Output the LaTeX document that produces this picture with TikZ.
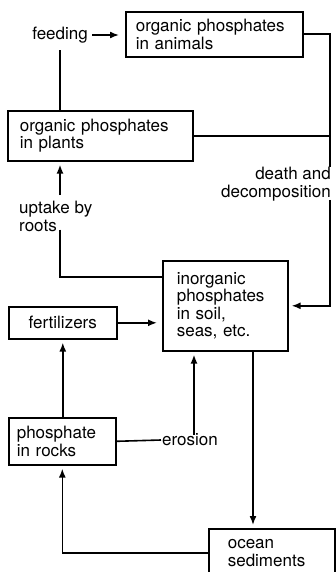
\documentclass[tikz,border=0pt]{standalone}
\usepackage{fontspec}
\setmainfont{TeX Gyre Heros}
\usetikzlibrary{arrows.meta}

\tikzset{
  box/.style={draw, line width=1.6pt, anchor=north west, align=left, inner ysep=0pt},
  lbl/.style={inner sep=1pt},
  flow/.style={line width=1.6pt},
  arr/.style={flow, -{Latex[length=9pt,width=7pt]}, shorten >=3pt}
}

\begin{document}
\begin{tikzpicture}[x=1pt, y=-1pt, font=\fontsize{17}{17.5}\selectfont]
    % Page frame
    \useasboundingbox (0,0) rectangle (336,572);

    % The boxes
    \node[box, inner xsep=10pt, minimum width=177pt, minimum height=45pt, text width=157pt]
        (animals) at (125,11) {organic phosphates\\in animals};
    \node[box, inner xsep=12pt, minimum width=185pt, minimum height=50pt, text width=161pt]
        (plants) at (7,110) {organic phosphates\\in plants};
    \node[box, inner xsep=14pt, minimum width=125pt, minimum height=90pt, text width=97pt]
        (inorganic) at (162,260) {inorganic\\phosphates\\in soil,\\seas, etc.};
    \node[box, align=center, inner xsep=4pt, minimum width=108pt, minimum height=32pt, text width=100pt]
        (fert) at (8,306) {fertilizers};
    \node[box, inner xsep=8pt, minimum width=107pt, minimum height=47pt, text width=91pt]
        (rocks) at (8,417) {phosphate\\in rocks};
    \node[box, inner xsep=19pt, minimum width=126pt, minimum height=48pt, text width=88pt]
        (ocean) at (208,528) {ocean\\sediments};

    % The labels
    \node[lbl, anchor=east] (feeding) at (89,35) {feeding};
    \node[lbl, anchor=north east, align=right] (death) at (332,166) {death and\\decomposition};
    \node[lbl, anchor=north west, align=left] (uptake) at (18,200) {uptake by\\roots};
    \node[lbl, anchor=west] (erosion) at (161,440) {erosion};

    % Guide lines
    \coordinate (rx) at (330,0);
    \coordinate (ux) at (60,0);
    \coordinate (ex) at (194,0);
    \coordinate (dx) at (253,0);

    % Feeding
    \draw[flow] (plants.north -| ux) -- ([yshift=-6pt]feeding.south -| ux);
    \draw[arr, shorten <=3pt, shorten >=6pt] (feeding.east) -- (animals.west |- feeding.east);

    % Death and decomposition
    \draw[flow] (animals.east) -| ([yshift=-1pt]death.north -| rx);
    \draw[flow] (plants.east) -- (plants.east -| rx);
    \draw[arr] ([yshift=2pt]death.south -| rx) |- (inorganic.east);

    % Uptake by roots
    \draw[arr] ([yshift=5pt]uptake.north -| ux) -- (plants.south -| ux);
    \draw[flow] ([yshift=3pt]uptake.south -| ux) |- ([yshift=-17pt]inorganic.north west);

    % Fertilizers and rocks
    \draw[arr, shorten >=5pt] (fert.east) -- (inorganic.west |- fert.east);
    \draw[arr] (rocks.north -| fert.south) -- (fert.south);
    \draw[flow] (rocks.east) -- (erosion.west);
    \draw[arr] ([yshift=-2pt]erosion.north -| ex) -- (inorganic.south -| ex);

    % Down to the ocean and back
    \draw[arr] (inorganic.south -| dx) -- (ocean.north -| dx);
    \draw[arr] (ocean.west) -| (rocks.south);

\end{tikzpicture}
\end{document}
